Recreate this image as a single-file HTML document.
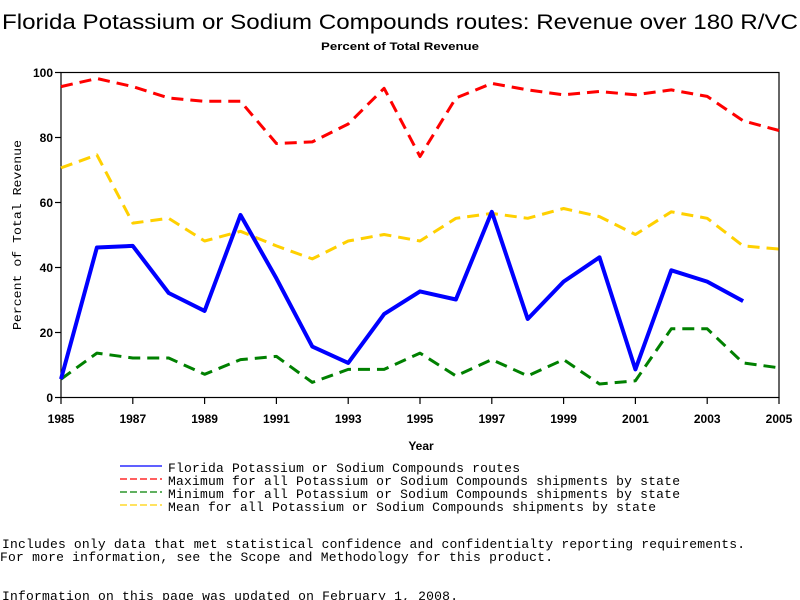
<!DOCTYPE html>
<html><head><meta charset="utf-8"><style>
body{margin:0;background:#fff;}
svg{display:block;}
</style></head><body>
<svg width="800" height="600" xmlns="http://www.w3.org/2000/svg">
<rect width="800" height="600" fill="#fff"/>
<text x="400" y="29" text-anchor="middle" font-family="Liberation Sans, sans-serif" font-size="21" textLength="796" lengthAdjust="spacingAndGlyphs">Florida Potassium or Sodium Compounds routes: Revenue over 180 R/VC</text>
<text x="400" y="50" text-anchor="middle" font-family="Liberation Sans, sans-serif" font-size="11" font-weight="bold" textLength="158" lengthAdjust="spacingAndGlyphs">Percent of Total Revenue</text>
<rect x="61" y="72.5" width="718" height="325" fill="none" stroke="#000" stroke-width="1.2"/>
<g stroke="#000" stroke-width="1.2">
<line x1="55" y1="72.5" x2="61" y2="72.5"/><line x1="55" y1="137.5" x2="61" y2="137.5"/><line x1="55" y1="202.5" x2="61" y2="202.5"/><line x1="55" y1="267.5" x2="61" y2="267.5"/><line x1="55" y1="332.5" x2="61" y2="332.5"/><line x1="55" y1="397.5" x2="61" y2="397.5"/>
<line x1="61" y1="397" x2="61" y2="404"/><line x1="132.8" y1="397" x2="132.8" y2="404"/><line x1="204.6" y1="397" x2="204.6" y2="404"/><line x1="276.4" y1="397" x2="276.4" y2="404"/><line x1="348.2" y1="397" x2="348.2" y2="404"/><line x1="420" y1="397" x2="420" y2="404"/><line x1="491.8" y1="397" x2="491.8" y2="404"/><line x1="563.6" y1="397" x2="563.6" y2="404"/><line x1="635.4" y1="397" x2="635.4" y2="404"/><line x1="707.2" y1="397" x2="707.2" y2="404"/><line x1="779" y1="397" x2="779" y2="404"/>
</g>
<g font-family="Liberation Sans, sans-serif" font-size="12" font-weight="bold" text-anchor="end">
<text x="53" y="77">100</text><text x="53" y="142">80</text><text x="53" y="207">60</text><text x="53" y="272">40</text><text x="53" y="337">20</text><text x="53" y="402">0</text>
</g>
<g font-family="Liberation Sans, sans-serif" font-size="12" font-weight="bold" text-anchor="middle">
<text x="61" y="423">1985</text><text x="132.8" y="423">1987</text><text x="204.6" y="423">1989</text><text x="276.4" y="423">1991</text><text x="348.2" y="423">1993</text><text x="420" y="423">1995</text><text x="491.8" y="423">1997</text><text x="563.6" y="423">1999</text><text x="635.4" y="423">2001</text><text x="707.2" y="423">2003</text><text x="779" y="423">2005</text>
<text x="421" y="450">Year</text>
</g>
<text transform="translate(21,235) rotate(-90)" text-anchor="middle" font-family="Liberation Mono, monospace" font-size="12" textLength="190" lengthAdjust="spacingAndGlyphs">Percent of Total Revenue</text>
<g fill="none" stroke-linejoin="round">
<polyline stroke="#ff0000" stroke-width="3" stroke-dasharray="12,7" points="61,86.6 96.9,78.5 132.8,86.6 168.7,98 204.6,101.3 240.5,101.3 276.4,143.5 312.3,141.9 348.2,124 384.1,88.3 420,156.5 455.9,98 491.8,83.4 527.7,89.9 563.6,94.8 599.5,91.5 635.4,94.8 671.3,89.9 707.2,96.4 743.1,120.8 779,130.5"/>
<polyline stroke="#ffd000" stroke-width="3" stroke-dasharray="12,7" points="61,167.9 96.9,154.9 132.8,223.1 168.7,218.3 204.6,241 240.5,231.3 276.4,245.9 312.3,258.9 348.2,241 384.1,234.5 420,241 455.9,218.3 491.8,213.4 527.7,218.3 563.6,208.5 599.5,216.6 635.4,234.5 671.3,211.8 707.2,218.3 743.1,245.9 779,249.1"/>
<polyline stroke="#008000" stroke-width="3" stroke-dasharray="12,7" points="61,379.1 96.9,353.1 132.8,358 168.7,358 204.6,374.3 240.5,359.6 276.4,356.4 312.3,382.4 348.2,369.4 384.1,369.4 420,353.1 455.9,375.9 491.8,359.6 527.7,375.9 563.6,359.6 599.5,384 635.4,380.8 671.3,328.8 707.2,328.8 743.1,362.9 779,367.8"/>
<polyline stroke="#0000ff" stroke-width="4" points="61,379.1 96.9,247.5 132.8,245.9 168.7,293 204.6,310.9 240.5,215 276.4,278.4 312.3,346.6 348.2,362.9 384.1,314.1 420,291.4 455.9,299.5 491.8,211.8 527.7,319 563.6,281.6 599.5,257.3 635.4,369.4 671.3,270.3 707.2,281.6 743.1,301.1"/>
</g>
<g stroke-width="1.2">
<line x1="120" y1="466" x2="162" y2="466" stroke="#0000ff"/>
<line x1="120" y1="479" x2="162" y2="479" stroke="#ff0000" stroke-dasharray="7,3"/>
<line x1="120" y1="492" x2="162" y2="492" stroke="#008000" stroke-dasharray="7,3"/>
<line x1="120" y1="505" x2="162" y2="505" stroke="#ffd000" stroke-dasharray="7,3"/>
</g>
<g font-family="Liberation Mono, monospace" font-size="13" lengthAdjust="spacingAndGlyphs">
<text x="168" y="472" textLength="352">Florida Potassium or Sodium Compounds routes</text>
<text x="168" y="485" textLength="512">Maximum for all Potassium or Sodium Compounds shipments by state</text>
<text x="168" y="498" textLength="512">Minimum for all Potassium or Sodium Compounds shipments by state</text>
<text x="168" y="511" textLength="488">Mean for all Potassium or Sodium Compounds shipments by state</text>
<text x="2" y="548" textLength="743">Includes only data that met statistical confidence and confidentialty reporting requirements.</text>
<text x="0" y="561" textLength="553">For more information, see the Scope and Methodology for this product.</text>
<text x="2" y="600" textLength="456">Information on this page was updated on February 1, 2008.</text>
</g>
</svg>
</body></html>
